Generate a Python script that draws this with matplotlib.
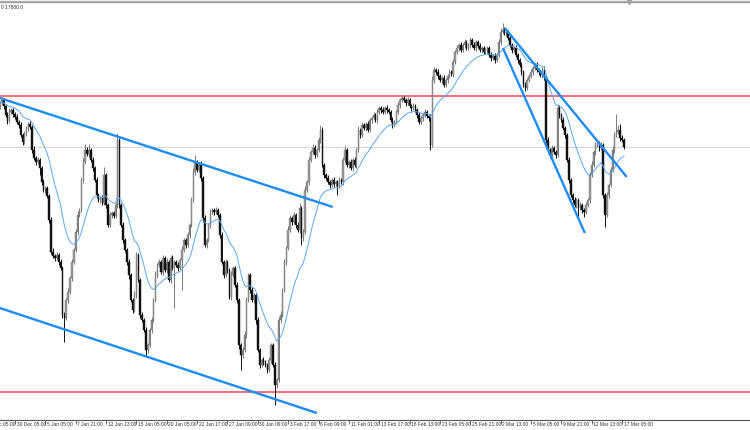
import matplotlib
matplotlib.use("Agg")
import matplotlib.pyplot as plt
from matplotlib import font_manager
import numpy as np
import pandas as pd

# ---------------- data (H4 candles, price points) ----------------
first_open = 18080
closes = [
    18100, 18115, 18085, 18040, 18010, 18055, 18065, 18045, 18030, 18005,
    17990, 17940, 17905, 17945, 17975, 17995, 17980, 17865, 17825, 17805,
    17815, 17775, 17705, 17665, 17675, 17635, 17515, 17355, 17335, 17325,
    17340, 17305, 17275, 17040, 17025, 17115, 17155, 17225, 17305, 17365,
    17455, 17540, 17565, 17715, 17805, 17865, 17845, 17865, 17815, 17775,
    17715, 17640, 17615, 17625, 17600, 17740, 17590, 17490, 17540, 17550,
    17535, 17590, 17915, 17590, 17490, 17415, 17365, 17305, 17240, 17115,
    17065, 17140, 17340, 17215, 17040, 17015, 16965, 16865, 16890, 16965,
    17015, 17115, 17240, 17290, 17305, 17255, 17325, 17265, 17305, 17215,
    17325, 17275, 17305, 17290, 17275, 17315, 17365, 17415, 17390, 17440,
    17490, 17615, 17755, 17805, 17765, 17790, 17725, 17525, 17390, 17415,
    17490, 17555, 17565, 17555, 17565, 17540, 17440, 17305, 17240, 17305,
    17265, 17130, 17240, 17275, 17190, 17115, 16890, 16840, 16865, 16940,
    17115, 17240, 17165, 17115, 17140, 17015, 16865, 16790, 16815, 16805,
    16790, 16765, 16815, 16890, 16790, 16690, 16715, 17015, 17040, 17165,
    17305, 17375, 17465, 17525, 17505, 17540, 17490, 17465, 17575, 17425,
    17455, 17665, 17705, 17815, 17855, 17875, 17840, 17865, 17915, 17965,
    17790, 17740, 17725, 17705, 17690, 17715, 17695, 17705, 17685, 17715,
    17705, 17815, 17865, 17790, 17805, 17775, 17815, 17790, 17865, 17965,
    17940, 17990, 17975, 17995, 17965, 18015, 18025, 18040, 18015, 18055,
    18075, 18065, 18055, 18075, 18065, 18055, 18015, 17990, 18005, 18055,
    18090, 18115, 18125, 18115, 18100, 18115, 18085, 18075, 18085, 18065,
    18040, 18005, 18025, 18040, 18055, 18035, 18025, 17890, 18215, 18265,
    18255, 18235, 18215, 18225, 18190, 18215, 18235, 18255, 18245, 18305,
    18355, 18375, 18390, 18365, 18390, 18405, 18375, 18390, 18415, 18390,
    18375, 18405, 18385, 18365, 18375, 18355, 18365, 18375, 18340, 18325,
    18335, 18315, 18340, 18405, 18455, 18465, 18450, 18455, 18425, 18390,
    18365, 18375, 18340, 18315, 18290, 18255, 18190, 18175, 18215, 18235,
    18255, 18275, 18290, 18265, 18255, 18240, 18265, 18225, 17915, 17865,
    17840, 17875, 17855, 17840, 18075, 18040, 18015, 17975, 17940, 17815,
    17715, 17640, 17615, 17590, 17615, 17575, 17590, 17565, 17555, 17590,
    17615, 17740, 17790, 17855, 17890, 17900, 17875, 17890, 17640, 17540,
    17640, 17690, 17765, 17865, 17940, 17955, 17965, 17925, 17915, 17880,
]
upper_wick = [
    10, 15, 10, 10, 15, 20, 10, 10, 10, 15,
    10, 15, 10, 15, 10, 10, 15, 10, 20, 10,
    15, 10, 10, 15, 10, 10, 10, 15, 20, 10,
    15, 10, 15, 10, 15, 10, 20, 10, 15, 10,
    15, 20, 10, 15, 20, 30, 15, 30, 10, 15,
    10, 15, 10, 10, 15, 40, 10, 10, 15, 10,
    10, 15, 35, 10, 10, 15, 10, 10, 15, 10,
    10, 20, 15, 10, 10, 15, 10, 15, 10, 10,
    15, 10, 20, 10, 15, 10, 15, 10, 20, 10,
    10, 15, 10, 10, 15, 10, 20, 10, 10, 15,
    10, 15, 20, 35, 10, 15, 20, 10, 15, 10,
    10, 15, 10, 10, 15, 10, 10, 15, 10, 15,
    10, 10, 20, 10, 10, 15, 10, 10, 15, 20,
    15, 10, 10, 15, 10, 10, 15, 10, 10, 15,
    10, 10, 15, 10, 10, 15, 10, 15, 20, 10,
    15, 10, 20, 15, 10, 15, 10, 15, 25, 10,
    15, 20, 10, 15, 10, 20, 15, 10, 15, 25,
    15, 10, 10, 15, 10, 10, 15, 10, 10, 15,
    10, 15, 20, 10, 10, 15, 10, 15, 10, 20,
    10, 15, 10, 10, 15, 10, 10, 15, 10, 15,
    10, 10, 15, 10, 15, 10, 10, 15, 10, 10,
    15, 10, 15, 10, 10, 15, 10, 10, 15, 10,
    10, 15, 10, 10, 15, 10, 10, 20, 20, 15,
    10, 15, 10, 10, 15, 10, 10, 15, 10, 15,
    10, 15, 10, 15, 10, 15, 10, 10, 15, 10,
    15, 10, 10, 15, 10, 10, 15, 10, 10, 15,
    10, 15, 10, 15, 20, 35, 15, 10, 10, 15,
    10, 10, 15, 10, 10, 15, 10, 15, 10, 10,
    15, 10, 10, 15, 10, 10, 15, 20, 10, 15,
    10, 15, 10, 10, 20, 15, 10, 15, 10, 10,
    15, 10, 10, 15, 10, 10, 15, 10, 10, 15,
    10, 15, 20, 10, 15, 20, 10, 15, 10, 10,
    15, 10, 15, 20, 15, 90, 25, 30, 15, 10,
]
lower_wick = [
    10, 10, 15, 10, 15, 10, 10, 15, 10, 10,
    15, 10, 15, 10, 10, 15, 10, 15, 10, 15,
    10, 35, 15, 10, 15, 10, 15, 10, 10, 15,
    10, 15, 10, 15, 120, 10, 15, 10, 15, 10,
    10, 15, 10, 10, 15, 10, 10, 15, 10, 15,
    10, 15, 10, 15, 10, 10, 15, 10, 10, 15,
    10, 10, 15, 15, 10, 15, 10, 15, 20, 10,
    15, 10, 15, 10, 15, 10, 10, 35, 15, 10,
    15, 10, 10, 15, 10, 10, 15, 10, 15, 10,
    15, 10, 200, 10, 15, 10, 150, 10, 15, 10,
    15, 10, 10, 15, 10, 10, 15, 20, 10, 15,
    10, 15, 10, 15, 10, 10, 15, 10, 15, 10,
    15, 10, 15, 10, 10, 15, 20, 75, 15, 10,
    15, 10, 15, 10, 15, 20, 10, 15, 10, 15,
    10, 15, 10, 15, 10, 100, 15, 10, 15, 10,
    10, 15, 10, 10, 15, 10, 15, 10, 15, 35,
    15, 10, 10, 15, 10, 10, 15, 10, 10, 15,
    10, 15, 10, 10, 15, 10, 15, 10, 45, 10,
    10, 15, 10, 10, 15, 10, 15, 10, 15, 10,
    15, 10, 10, 15, 10, 10, 15, 10, 10, 15,
    10, 15, 10, 10, 15, 10, 10, 15, 10, 10,
    10, 15, 10, 10, 15, 10, 10, 15, 10, 10,
    15, 10, 10, 15, 10, 10, 15, 25, 10, 15,
    10, 15, 10, 15, 10, 10, 15, 10, 10, 15,
    10, 10, 15, 10, 10, 15, 10, 10, 15, 10,
    10, 15, 10, 10, 15, 10, 10, 15, 10, 15,
    10, 15, 10, 10, 15, 10, 10, 15, 10, 10,
    15, 10, 10, 15, 10, 15, 10, 15, 10, 10,
    10, 15, 10, 10, 15, 10, 15, 10, 15, 10,
    15, 10, 10, 15, 10, 15, 10, 10, 15, 10,
    15, 10, 15, 10, 15, 40, 10, 15, 25, 10,
    10, 15, 10, 10, 15, 10, 15, 10, 15, 60,
    10, 15, 10, 10, 15, 10, 10, 15, 10, 10,
]
ma_span = 20

# horizontal levels
resistance = 18135
support = 16655
bid = 17880

# trend lines: (bar, price) pairs
trend_lines = [
    ((0.0, 18125), (175.5, 17580)),
    ((0.0, 17075), (167.1, 16550)),
    ((266.2, 18475), (330.5, 17730)),
    ((265.2, 18375), (308.4, 17450)),
]

# time axis labels (one every 16 H4 bars, starting at bar -8)
tick_labels = ["26 Dec 05:00", "30 Dec 05:00", "5 Jan 05:00", "7 Jan 21:00",
               "12 Jan 13:00", "15 Jan 05:00", "20 Jan 05:00", "22 Jan 17:00",
               "27 Jan 09:00", "30 Jan 09:00", "3 Feb 17:00", "6 Feb 09:00",
               "11 Feb 01:00", "13 Feb 17:00", "18 Feb 13:00", "23 Feb 05:00",
               "25 Feb 21:00", "2 Mar 13:00", "5 Mar 05:00", "9 Mar 21:00",
               "12 Mar 13:00", "17 Mar 05:00"]
tick_first_bar = -8
tick_step = 16

# ---------------- derived ----------------
closes = np.array(closes, dtype=float)
opens = np.concatenate([[first_open], closes[:-1]])
highs = np.maximum(opens, closes) + np.array(upper_wick)
lows = np.minimum(opens, closes) - np.array(lower_wick)
n = len(closes)
idx = np.arange(n)
ma = pd.Series(closes).ewm(span=ma_span, adjust=False).mean().values

# font choice for the small axis labels
def has_font(name):
    try:
        font_manager.findfont(name, fallback_to_default=False)
        return True
    except Exception:
        return False

if has_font("Liberation Sans Narrow"):
    lab_family, lab_size = ["Liberation Sans Narrow", "DejaVu Sans"], 4.1
else:
    lab_family, lab_size = ["Liberation Sans", "DejaVu Sans"], 3.5

# ---------------- figure ----------------
W, H = 750, 430
fig = plt.figure(figsize=(W / 100, H / 100), dpi=100)
fig.patch.set_facecolor("white")
ax = fig.add_axes([0, 10 / H, 1, 418 / H])
ax.set_facecolor("white")

px_per_bar = 1.897

# horizontal lines
ax.axhline(bid, color="#dadada", lw=1.0, zorder=1)
ax.axhline(resistance, color="#f26464", lw=1.3, zorder=2)
ax.axhline(support, color="#f26464", lw=1.3, zorder=2)

# candles
bull = closes >= opens
bear = ~bull
ax.vlines(idx[bull], lows[bull], highs[bull], color="#7a7a7a", lw=0.7, zorder=3)
ax.vlines(idx[bear], lows[bear], highs[bear], color="#111111", lw=0.7, zorder=3)
body_lo = np.minimum(opens, closes)
body_h = np.maximum(np.abs(closes - opens), 3)
ax.bar(idx[bull], body_h[bull], bottom=body_lo[bull], width=0.78,
       color="#9c9c9c", edgecolor="#6e6e6e", linewidth=0.3, zorder=4)
ax.bar(idx[bear], body_h[bear], bottom=body_lo[bear], width=0.78,
       color="#111111", edgecolor="#111111", linewidth=0.3, zorder=4)

# moving average
ax.plot(idx, ma, color="#5aa8f5", lw=0.7, zorder=5)

# trend lines
for (x1, y1), (x2, y2) in trend_lines:
    ax.plot([x1, x2], [y1, y2], color="#1e8cf5", lw=1.7, zorder=6,
            solid_capstyle="butt")

# axes styling
for s in ["left", "right"]:
    ax.spines[s].set_visible(False)
ax.spines["top"].set_color("#9a9a9a")
ax.spines["top"].set_linewidth(1.0)
ax.spines["bottom"].set_color("#555555")
ax.spines["bottom"].set_linewidth(0.8)
ax.set_yticks([])

tick_pos = [tick_first_bar + tick_step * k for k in range(len(tick_labels))]
ax.set_xticks(tick_pos)
ax.set_xticklabels([])
ax.tick_params(axis="x", direction="out", length=3, width=0.6, color="#555555")
for p, lab in zip(tick_pos, tick_labels):
    ax.annotate(lab, xy=(p, 0), xycoords=("data", "axes fraction"),
                xytext=(1.2, -1.2), textcoords="offset points",
                ha="left", va="top", fontsize=lab_size, family=lab_family,
                color="#333333", annotation_clip=False)

# limits set last (set_xticks would widen them)
ax.set_xlim(0.1, 0.1 + W / px_per_bar)
ax.set_ylim(16515, 18605)

# header text and chart-shift marker
ax.text(0.001, 0.993, "0 17880.0", transform=ax.transAxes, ha="left", va="top",
        fontsize=lab_size, family=lab_family, color="#333333")
ax.plot([331.5], [18605], marker="v", ms=3, color="#9a9a9a", clip_on=False, zorder=7)
fig.add_artist(plt.Line2D([0, 1], [1 - 0.5 / H, 1 - 0.5 / H], color="#b0b0b0", lw=1.0))

fig.savefig("out.png", dpi=100, facecolor="white")
